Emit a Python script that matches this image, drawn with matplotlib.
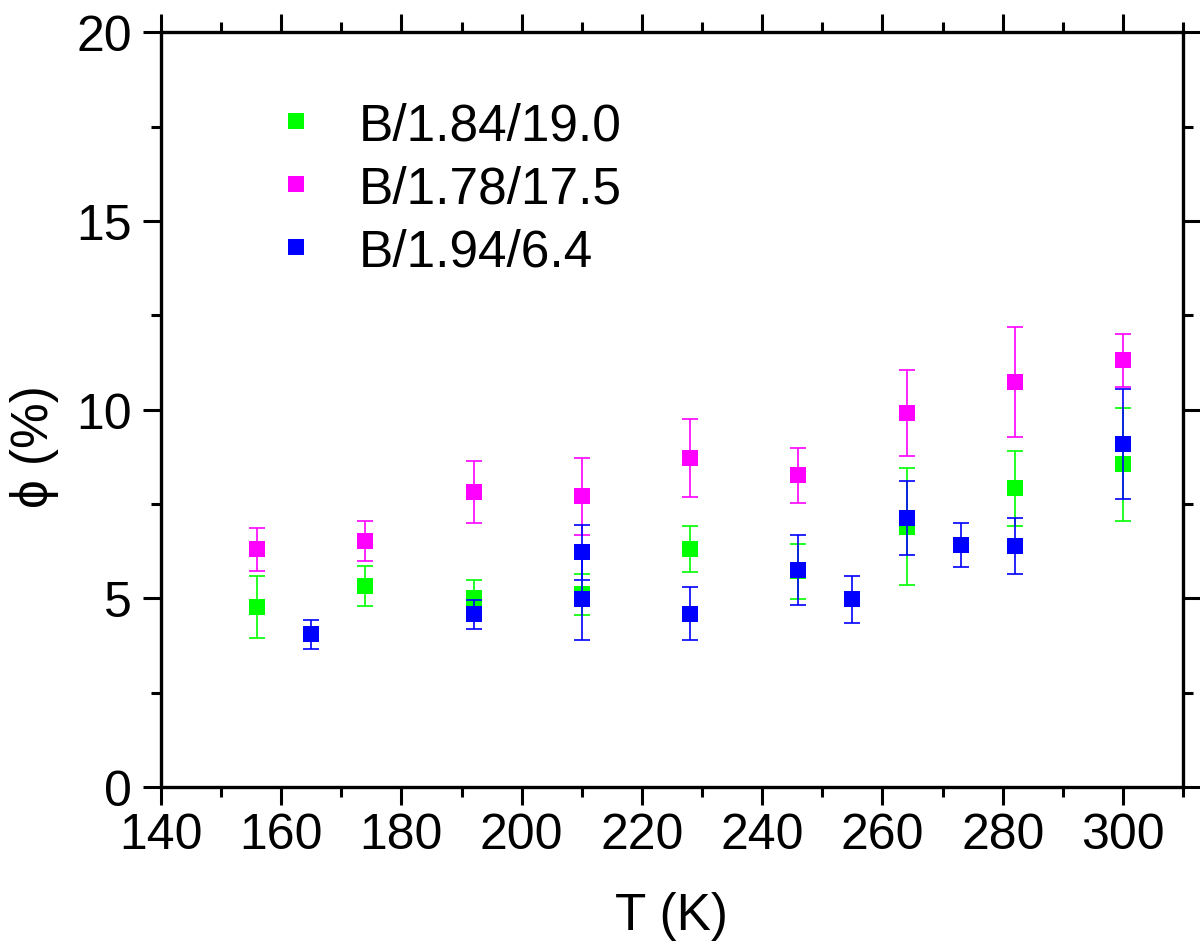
import matplotlib
matplotlib.use("Agg")
import matplotlib.pyplot as plt
from matplotlib.ticker import MultipleLocator
from matplotlib.lines import Line2D

plt.rcParams['font.family'] = ['Liberation Sans', 'DejaVu Sans']

# Series: B/1.84/19.0
t_green = [156, 174, 192, 210, 228, 246, 264, 282, 300]
phi_green = [4.77, 5.32, 5.00, 5.11, 6.31, 5.72, 6.90, 7.92, 8.55]
err_green = [0.82, 0.53, 0.48, 0.55, 0.60, 0.73, 1.55, 1.00, 1.50]

# Series: B/1.78/17.5
t_magenta = [156, 174, 192, 210, 228, 246, 264, 282, 300]
phi_magenta = [6.30, 6.52, 7.81, 7.71, 8.72, 8.26, 9.91, 10.73, 11.31]
err_magenta = [0.57, 0.53, 0.82, 1.02, 1.03, 0.73, 1.14, 1.45, 0.70]

# Series: B/1.94/6.4
t_blue = [165, 192, 210, 210, 228, 246, 255, 264, 273, 282, 300]
phi_blue = [4.05, 4.58, 6.22, 4.98, 4.59, 5.75, 4.98, 7.13, 6.41, 6.38, 9.09]
err_blue = [0.38, 0.38, 0.73, 1.08, 0.70, 0.92, 0.62, 0.98, 0.58, 0.74, 1.45]

labels = ['B/1.84/19.0', 'B/1.78/17.5', 'B/1.94/6.4']
colors = ['#00ff00', '#ff00ff', '#0000ff']

fig = plt.figure(figsize=(12, 9.53), dpi=100)
ax = fig.add_axes([0.134, 0.173, 0.852, 0.792])

series = [(t_green, phi_green, err_green),
          (t_magenta, phi_magenta, err_magenta),
          (t_blue, phi_blue, err_blue)]
for (t, p, e), c in zip(series, colors):
    ax.errorbar(t, p, yerr=e, fmt='none', ecolor=c, elinewidth=1.2,
                capsize=6, capthick=1.2)
    ax.plot(t, p, linestyle='none', marker='s', color=c,
            markersize=12.2, markeredgewidth=0)

ax.set_xlim(140, 310)
ax.set_ylim(0, 20)
ax.xaxis.set_major_locator(MultipleLocator(20))
ax.xaxis.set_minor_locator(MultipleLocator(10))
ax.yaxis.set_major_locator(MultipleLocator(5))
ax.yaxis.set_minor_locator(MultipleLocator(2.5))

for s in ax.spines.values():
    s.set_linewidth(2.4)
ax.tick_params(which='both', direction='out', top=True, right=True, width=2.2)
ax.tick_params(which='major', length=13, labelsize=36)
ax.tick_params(axis='x', which='major', pad=5)
ax.tick_params(axis='y', which='major', pad=8)
ax.tick_params(which='minor', length=7)

ax.set_xlabel('T (K)', fontsize=37)
ax.set_ylabel('ϕ (%)', fontsize=37)
ax.xaxis.set_label_coords(0.499, -0.137)
ax.yaxis.set_label_coords(-0.10, 0.453)

handles = [Line2D([], [], linestyle='none', marker='s', color=c,
                  markersize=12.2, markeredgewidth=0) for c in colors]
ax.legend(handles, labels, loc='upper left', bbox_to_anchor=(0.107, 0.909),
          frameon=False, fontsize=37, handlelength=1.0, handletextpad=0.72,
          labelspacing=0.275, borderpad=0, borderaxespad=0)

fig.savefig('out.png', dpi=100)
